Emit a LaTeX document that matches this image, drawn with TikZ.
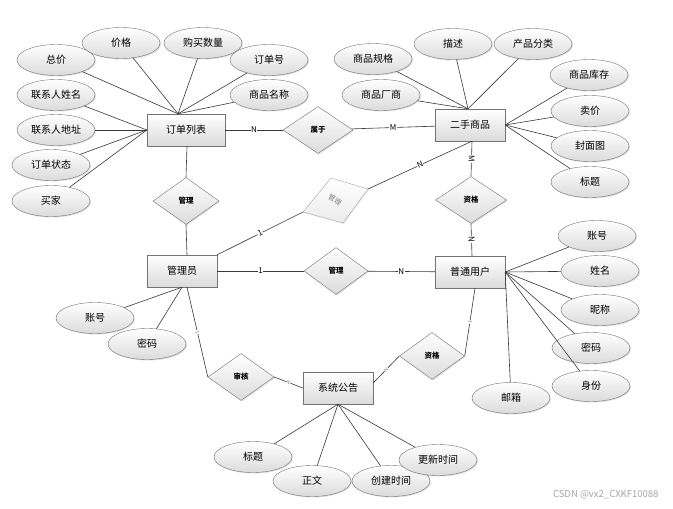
\documentclass[tikz,border=0pt]{standalone}
\usepackage{fontspec}
\setmainfont{Noto Sans CJK SC}
\usetikzlibrary{shapes.geometric,shadows,calc}
\begin{document}
\begin{tikzpicture}[x=1pt,y=-1pt,
 base/.style={draw=black!55, top color=white, bottom color=black!14, drop shadow={opacity=0.25,shadow xshift=1pt,shadow yshift=-1pt}},
 ent/.style={base, rectangle, minimum width=70pt, minimum height=32pt, inner sep=0pt, font=\fontsize{10}{12}\selectfont},
 attr/.style={base, ellipse, minimum width=78pt, minimum height=31pt, inner sep=0pt, font=\fontsize{10}{12}\selectfont},
 rel/.style={base, diamond, minimum width=66pt, minimum height=47pt, inner sep=0pt, font=\fontsize{7.5}{9}\selectfont\bfseries},
 ln/.style={draw=black!78, line width=0.6pt},
 card/.style={fill=white, inner sep=0.5pt, font=\fontsize{8}{9}\selectfont},
 tiny/.style={fill=white, inner sep=0.3pt, text=black!50, font=\fontsize{5}{6}\selectfont},
]
\useasboundingbox[fill=white] (0,0) rectangle (673,509);

% entities
\node[ent, minimum width=78pt] (order) at (186,130) {订单列表};
\node[ent] (goods) at (470,125) {二手商品};
\node[ent] (admin) at (182,271) {管理员};
\node[ent] (user) at (470,272) {普通用户};
\node[ent] (notice) at (338,388) {系统公告};

% relations
\node[rel, minimum width=70pt] (shuyu) at (318,130) {属于};
\node[rel] (gl1) at (186,201) {管理};
\node[rel, minimum width=71pt] (zg1) at (471,200) {资格};
\node[rel, minimum width=64pt] (gl2) at (336,271) {管理};
\node[rel] (sh) at (241,377) {审核};
\node[rel, minimum width=65pt] (zg2) at (432,356) {资格};

% gray rotated relation
\coordinate (gT) at (331,178);
\coordinate (gR) at (368,189);
\coordinate (gB) at (343,223);
\coordinate (gL) at (303,212);
\path[draw=black!35, top color=white, bottom color=black!8, drop shadow={opacity=0.15,shadow xshift=1pt,shadow yshift=-1pt}] (gT) -- (gR) -- (gB) -- (gL) -- cycle;
\node[rotate=-30, inner sep=0pt, text=black!50, font=\fontsize{7}{8}\selectfont] (gm) at (335,200) {管理};

% order attributes
\node[attr] (o1) at (56,60) {总价};
\node[attr] (o2) at (121,43) {价格};
\node[attr] (o3) at (203,43) {购买数量};
\node[attr] (o4) at (269,60) {订单号};
\node[attr] (o5) at (269,95) {商品名称};
\node[attr] (o6) at (56,95) {联系人姓名};
\node[attr] (o7) at (56,130) {联系人地址};
\node[attr] (o8) at (51,165) {订单状态};
\node[attr] (o9) at (51,201) {买家};
\coordinate (oT) at ([xshift=-8pt]order.north);
\coordinate (oL) at (order.west);
\foreach \n in {o1,o2,o3,o4,o5} \draw[ln] (\n) -- (oT);
\foreach \n in {o6,o7,o8,o9} \draw[ln] (\n) -- (oL);

% goods attributes
\node[attr] (g1) at (373,59) {商品规格};
\node[attr] (g2) at (453,44) {描述};
\node[attr] (g3) at (533,44) {产品分类};
\node[attr] (g4) at (381,95) {商品厂商};
\node[attr] (g5) at (589,75) {商品库存};
\node[attr] (g6) at (590,111) {卖价};
\node[attr] (g7) at (590,146) {封面图};
\node[attr] (g8) at (590,182) {标题};
\coordinate (gTop) at ([xshift=-2pt]goods.north);
\coordinate (gRt) at (goods.east);
\foreach \n in {g1,g2,g3,g4} \draw[ln] (\n) -- (gTop);
\foreach \n in {g5,g6,g7,g8} \draw[ln] (\n) -- (gRt);

% admin attributes
\node[attr] (a1) at (95,318) {账号};
\node[attr] (a2) at (147,344) {密码};
\draw[ln] (a1) -- (admin.south);
\draw[ln] (a2) -- (admin.south);

% user attributes
\node[attr] (u1) at (597,236) {账号};
\node[attr] (u2) at (600,271) {姓名};
\node[attr] (u3) at (600,310) {昵称};
\node[attr] (u4) at (591,348) {密码};
\node[attr] (u5) at (591,386) {身份};
\node[attr] (u6) at (511,398) {邮箱};
\foreach \n in {u1,u2,u3,u4,u5,u6} \draw[ln] (\n) -- (user.east);

% notice attributes
\node[attr] (n1) at (253,457) {标题};
\node[attr] (n2) at (312,481) {正文};
\node[attr] (n3) at (391,481) {创建时间};
\node[attr] (n4) at (438,460) {更新时间};
\foreach \n in {n1,n2,n3,n4} \draw[ln] (\n) -- (notice.south);

% relationship connectors
\draw[ln] (order) -- node[card]{N} (shuyu);
\draw[ln] (shuyu) -- node[card]{M} (goods);
\draw[ln] ([xshift=1pt]order.south) -- (gl1.north);
\draw[ln] (gl1.south) -- ([xshift=5pt]admin.north);
\draw[ln] ([xshift=2pt]goods.south) -- node[card, rotate=-90]{M} (zg1.north);
\draw[ln] (zg1.south) -- node[card, rotate=-90]{N} ([xshift=2pt]user.north);
\draw[ln] ([xshift=2pt]goods.south) -- node[card, sloped]{N} (gR);
\draw[ln] (gL) -- node[card, sloped]{1} (admin.north east);
\draw[ln] (admin) -- node[card]{1} (gl2);
\draw[ln] (gl2) -- node[card]{N} (user);
\draw[ln] ([xshift=5pt]admin.south) -- node[tiny, sloped]{1} (sh.west);
\draw[ln] (sh.east) -- node[tiny, sloped]{N} (notice.west);
\draw[ln] ([xshift=5pt]user.south) -- node[tiny, sloped]{1} (zg2.east);
\draw[ln] (zg2.west) -- node[tiny, sloped]{N} ([yshift=5pt]notice.east);

% watermark
\node[anchor=east, text=black!35, font=\fontsize{9.5}{11}\selectfont] (wm) at (662,495) {CSDN @vx2\_CXKF10088};
\end{tikzpicture}
\end{document}
